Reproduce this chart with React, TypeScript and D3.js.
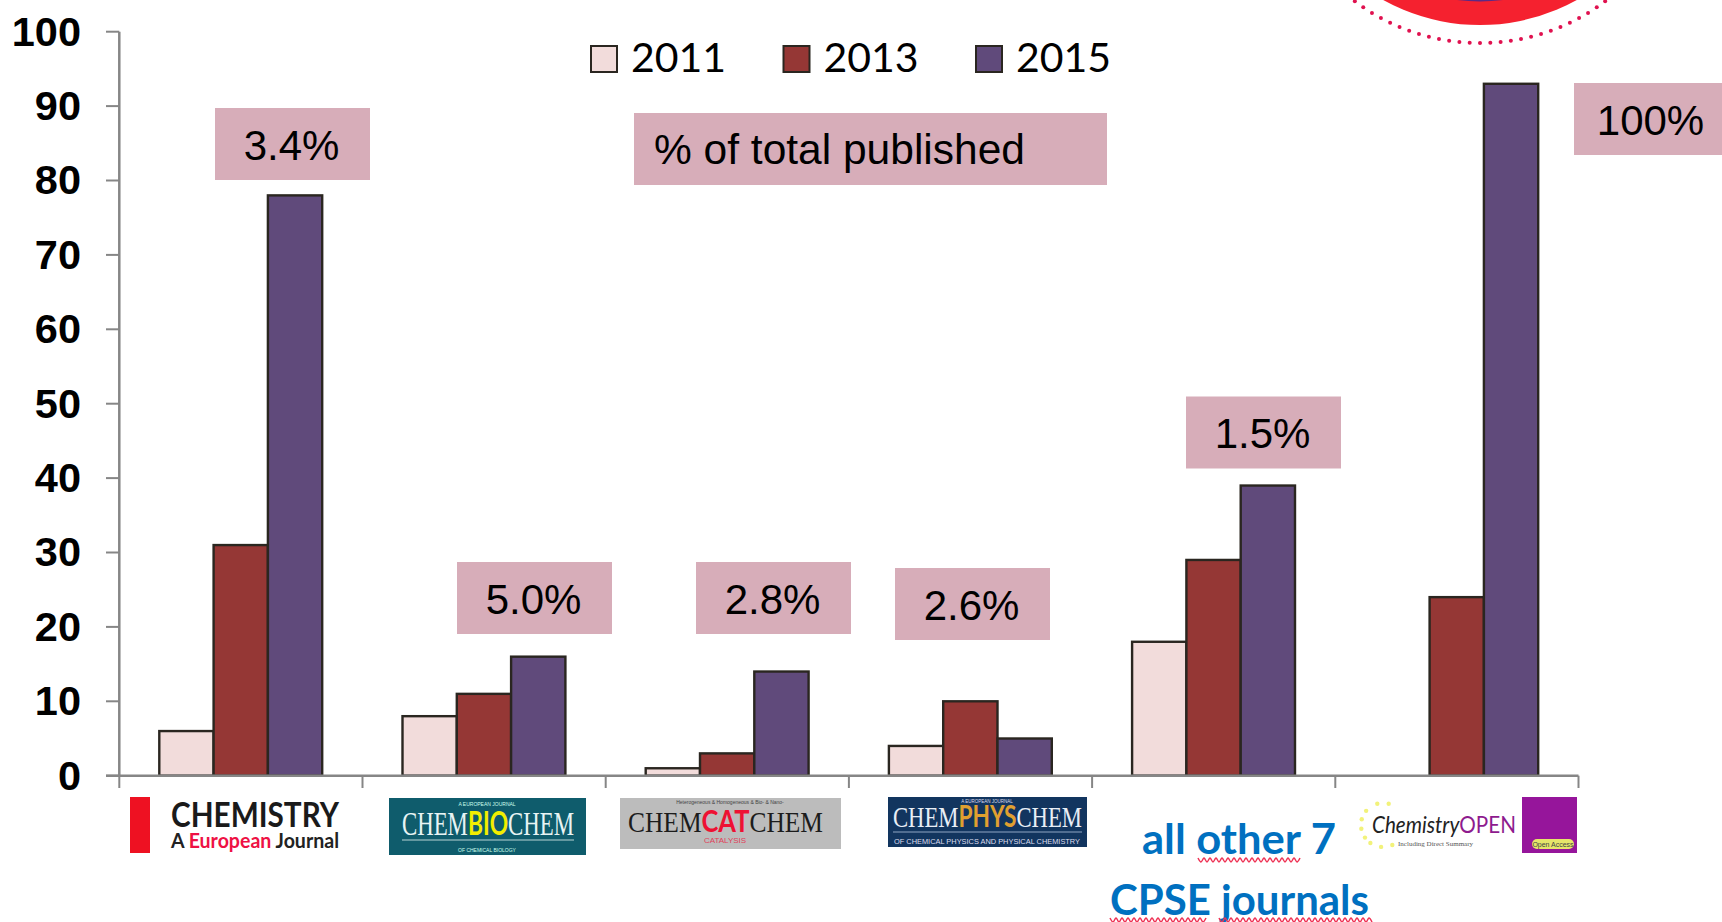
import * as d3 from 'd3'

const journals = ['Chemistry', 'ChemBioChem', 'ChemCatChem', 'ChemPhysChem', 'Other', 'ChemistryOpen']
const years = ['2011', '2013', '2015']
const values2011 = [6, 8, 1, 4, 18, 0]
const values2013 = [31, 11, 3, 10, 29, 24]
const values2015 = [78, 16, 14, 5, 39, 93]
const seriesValues = [values2011, values2013, values2015]
const yTicks = [0, 10, 20, 30, 40, 50, 60, 70, 80, 90, 100]
const colors = ['#f2dcdb', '#953735', '#604a7b']
const percentLabels = ['3.4%', '5.0%', '2.8%', '2.6%', '1.5%', '100%']

const W = 1722
const H = 922
const y = d3.scaleLinear().domain([0, 100]).range([775.7, 31.7])
const x0 = d3.scaleBand().domain(journals).range([119.3, 1578.5])
const barW = 54.3
const x1 = d3.scaleBand().domain(years).range([40, 40 + barW * 3])

const AXIS = '#868686'
const BOX = '#d7adb9'
const ARIAL = '"Liberation Sans", Arial, sans-serif'
const CALIBRI = 'Lato, sans-serif'
const SERIF = '"Liberation Serif", serif'

// label boxes: left, top
const boxes = [
  [215, 108],
  [457, 562],
  [696, 562],
  [895, 568],
  [1186, 396.5],
  [1574, 83],
]

const dots = d3.range(-22, 23)
const starAngles = [-105, -140, -75, -165, 170, 145, 125, 95, 65]

// red spell-check squiggle
const wave = d3.line<number>().x((d) => d).y((_, i) => (i % 2 ? 2 : -2)).curve(d3.curveMonotoneX)
const squiggle = (from: number, to: number) => wave(d3.range(from, to, 3))

export default function App() {
  return (
    <svg width={W} height={H} style={{ position: 'absolute', left: 0, top: 0, background: '#fff' }}>
      {/* badge cut off by the top edge */}
      <circle cx={1480} cy={-175} r={200} fill="#f5212f" />
      <circle cx={1480} cy={-175} r={176.5} fill="#5b2a86" />
      {dots.map((d) => {
        const a = Math.PI / 2 + (d * 2.83 * Math.PI) / 180
        return <circle key={d} cx={1480 + 209 * Math.cos(a)} cy={-166 + 209 * Math.sin(a)} r={2} fill="#e0114f" />
      })}

      {/* y axis */}
      <line x1={119.3} x2={119.3} y1={y(100)} y2={y(0)} stroke={AXIS} strokeWidth={2.5} />
      {yTicks.map((t) => (
        <g key={t}>
          <line x1={106} x2={119.3} y1={y(t)} y2={y(t)} stroke={AXIS} strokeWidth={2} />
          <text x={81} y={y(t) - 1} dy="0.36em" textAnchor="end" fontFamily={ARIAL} fontWeight="bold" fontSize={41.5}>
            {t}
          </text>
        </g>
      ))}

      {/* bars */}
      {journals.map((j, i) => (
        <g key={j} transform={`translate(${x0(j)},0)`}>
          {years.map((yr, s) =>
            seriesValues[s][i] > 0 ? (
              <rect
                key={yr}
                x={x1(yr)}
                y={y(seriesValues[s][i])}
                width={x1.bandwidth()}
                height={y(0) - y(seriesValues[s][i])}
                fill={colors[s]}
                stroke="#2a2620"
                strokeWidth={2.4}
              />
            ) : null
          )}
        </g>
      ))}

      {/* x axis */}
      <line x1={106} x2={1578.5} y1={y(0)} y2={y(0)} stroke={AXIS} strokeWidth={2.5} />
      {[...journals.map((j) => x0(j)), 1578.5].map((t, i) => (
        <line key={i} x1={t} x2={t} y1={y(0)} y2={788} stroke={AXIS} strokeWidth={2} />
      ))}

      {/* legend */}
      {years.map((yr, i) => {
        const lx = 591 + i * 192.5
        return (
          <g key={yr}>
            <rect x={lx} y={46} width={26} height={26} fill={colors[i]} stroke="#2a2620" strokeWidth={2} />
            <text x={lx + 40} y={72} fontFamily={CALIBRI} fontSize={41} fill="#000" textLength={95} lengthAdjust="spacingAndGlyphs">
              {yr}
            </text>
          </g>
        )
      })}

      {/* % boxes */}
      <rect x={634} y={113} width={473} height={72} fill={BOX} />
      <text x={654} y={164} fontFamily={ARIAL} fontSize={42.5}>
        % of total published
      </text>
      {percentLabels.map((p, i) => (
        <g key={p}>
          <rect x={boxes[i][0]} y={boxes[i][1]} width={155} height={72} fill={BOX} />
          <text x={boxes[i][0] + 76.5} y={boxes[i][1] + 51.5} textAnchor="middle" fontFamily={ARIAL} fontSize={42}>
            {p}
          </text>
        </g>
      ))}

      {/* Chemistry logo */}
      <rect x={130} y={797} width={20} height={56} fill="#ee1122" />
      <text x={171} y={827} fontFamily={CALIBRI} fontWeight="bold" fontSize={35} textLength={168} lengthAdjust="spacingAndGlyphs" fill="#1a1a1a">
        CHEMISTRY
      </text>
      <text x={171} y={848} fontFamily={CALIBRI} fontWeight="bold" fontSize={21} textLength={168} lengthAdjust="spacingAndGlyphs" fill="#222">
        A <tspan fill="#ee1144">European</tspan> Journal
      </text>

      {/* ChemBioChem logo */}
      <rect x={389} y={798} width={197} height={57} fill="#0f5c6c" />
      <text x={402} y={835} fontFamily={SERIF} fontSize={33} textLength={172} lengthAdjust="spacingAndGlyphs" fill="#e8f4f4">
        CHEM<tspan fill="#f2ee00" fontFamily={CALIBRI} fontWeight="bold">BIO</tspan>CHEM
      </text>
      <line x1={402} x2={574} y1={840} y2={840} stroke="#b9d4d4" />
      <text x={487} y={806} textAnchor="middle" fontFamily={ARIAL} fontSize={5} fill="#cfe">
        A EUROPEAN JOURNAL
      </text>
      <text x={487} y={852} textAnchor="middle" fontFamily={ARIAL} fontSize={5} fill="#cfe">
        OF CHEMICAL BIOLOGY
      </text>

      {/* ChemCatChem logo */}
      <rect x={620} y={798} width={221} height={51} fill="#bcbcbc" />
      <text x={628} y={832} fontFamily={SERIF} fontSize={30} textLength={195} lengthAdjust="spacingAndGlyphs" fill="#1c1c1c">
        CHEM<tspan fill="#ee1133" fontFamily={CALIBRI} fontWeight="bold">CAT</tspan>CHEM
      </text>
      <text x={730} y={804} textAnchor="middle" fontFamily={ARIAL} fontSize={5} fill="#444">
        Heterogeneous &amp; Homogeneous &amp; Bio- &amp; Nano-
      </text>
      <text x={725} y={843} textAnchor="middle" fontFamily={ARIAL} fontSize={8} fill="#e0405a">
        CATALYSIS
      </text>

      {/* ChemPhysChem logo */}
      <rect x={888} y={797} width={199} height={50} fill="#12355f" />
      <text x={893} y={827} fontFamily={SERIF} fontSize={30} textLength={189} lengthAdjust="spacingAndGlyphs" fill="#e8eef6">
        CHEM<tspan fill="#e0a030" fontFamily={CALIBRI} fontWeight="bold">PHYS</tspan>CHEM
      </text>
      <line x1={893} x2={1082} y1={832} y2={832} stroke="#8fa6c4" />
      <text x={987} y={803} textAnchor="middle" fontFamily={ARIAL} fontSize={4.5} fill="#dde">
        A EUROPEAN JOURNAL
      </text>
      <text x={987} y={844} textAnchor="middle" fontFamily={ARIAL} fontSize={7.5} textLength={186} lengthAdjust="spacingAndGlyphs" fill="#dde">
        OF CHEMICAL PHYSICS AND PHYSICAL CHEMISTRY
      </text>

      {/* all other journals */}
      <text x={1142} y={854} fontFamily={CALIBRI} fontWeight="bold" fontSize={42} textLength={194} lengthAdjust="spacingAndGlyphs" fill="#0070c0">
        all other 7
      </text>
      <text x={1110} y={915} fontFamily={CALIBRI} fontWeight="bold" fontSize={42} textLength={259} lengthAdjust="spacingAndGlyphs" fill="#0070c0">
        CPSE journals
      </text>
      <g fill="none" stroke="#ee3355" strokeWidth={1.5}>
        <path d={squiggle(1198, 1303) ?? ''} transform="translate(0,860)" />
        <path d={squiggle(1110, 1208) ?? ''} transform="translate(0,920)" />
        <path d={squiggle(1219, 1374) ?? ''} transform="translate(0,920)" />
      </g>

      {/* ChemistryOpen logo */}
      {starAngles.map((a) => (
        <circle
          key={a}
          cx={1383 + 22 * Math.cos((a * Math.PI) / 180)}
          cy={825 + 22 * Math.sin((a * Math.PI) / 180)}
          r={2.2}
          fill="#f2f27a"
        />
      ))}
      <text x={1372} y={833} fontFamily={CALIBRI} fontStyle="italic" fontSize={24} textLength={144} lengthAdjust="spacingAndGlyphs" fill="#222">
        Chemistry<tspan fill="#8e1a8e" fontStyle="normal">OPEN</tspan>
      </text>
      <text x={1398} y={846} fontFamily={SERIF} fontSize={7} fill="#555">
        Including Direct Summary
      </text>
      <rect x={1522} y={797} width={55} height={56} fill="#96159b" />
      <rect x={1532} y={839} width={42} height={10} rx={5} fill="#e6e66a" />
      <text x={1553} y={847} textAnchor="middle" fontFamily={ARIAL} fontSize={7} fill="#444">
        Open Access
      </text>
    </svg>
  )
}
